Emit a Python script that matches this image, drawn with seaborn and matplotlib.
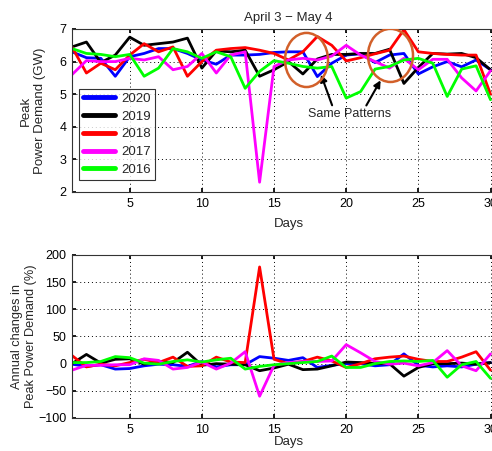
import matplotlib
matplotlib.use("Agg")
import matplotlib.pyplot as plt
import seaborn as sns
import pandas as pd
import numpy as np
from matplotlib.patches import Ellipse

days = list(range(1, 31))
years = ["2020", "2019", "2018", "2017", "2016"]
colors = {"2020": "#0000FF", "2019": "#000000", "2018": "#FF0000",
          "2017": "#FF00FF", "2016": "#00FF00"}

demand_2020 = [6.3, 6.12, 6.1, 5.55, 6.15, 6.25, 6.4, 6.4, 6.25, 6.05, 5.92, 6.2, 6.2, 6.22, 6.28,
               6.3, 6.3, 5.54, 5.95, 6.2, 6.24, 5.97, 6.2, 6.25, 5.62, 5.84, 6.0, 5.84, 6.05, 5.75]
demand_2019 = [6.45, 6.6, 5.97, 6.2, 6.75, 6.5, 6.55, 6.6, 6.72, 5.8, 6.33, 6.3, 6.35, 5.55, 5.75,
               6.0, 5.62, 6.08, 6.22, 6.22, 6.25, 6.25, 6.38, 5.33, 5.82, 6.25, 6.23, 6.25, 6.12, 5.75]
demand_2018 = [6.45, 5.65, 5.95, 5.75, 6.2, 6.55, 6.3, 6.45, 5.55, 6.0, 6.35, 6.4, 6.43, 6.35, 6.25,
               6.05, 6.3, 6.77, 6.5, 6.02, 6.12, 6.24, 6.35, 6.98, 6.3, 6.25, 6.22, 6.2, 6.2, 5.0]
demand_2017 = [5.6, 6.03, 6.0, 6.0, 6.1, 6.05, 6.15, 5.75, 5.85, 6.25, 5.65, 6.2, 6.3, 2.3, 5.85,
               6.05, 6.1, 6.05, 6.17, 6.5, 6.2, 6.0, 5.8, 6.1, 5.75, 6.07, 6.07, 5.5, 5.1, 5.72]
demand_2016 = [6.4, 6.25, 6.22, 6.15, 6.22, 5.55, 5.8, 6.4, 6.3, 6.1, 6.3, 6.15, 5.18, 5.7, 6.03,
               5.95, 5.85, 5.8, 5.85, 4.88, 5.08, 5.77, 5.85, 6.05, 6.1, 5.95, 4.93, 5.77, 5.87, 4.83]

change_2020 = [-1, -5, -2, -10, -9, -4, -1, -2, -5, 4, -6, -2, -2, 13, 10,
               6, 11, -7, -3, 0, 0, -4, -2, 18, -3, -6, -4, -6, -1, 2]
change_2019 = [0, 17, 1, 8, 9, -1, 4, 2, 21, -3, 0, -1, -2, -13, -8,
               -1, -11, -10, -4, 3, 2, 0, 0, -23, -7, 0, 0, 1, -1, 2]
change_2018 = [15, -6, -1, -4, 2, 8, 2, 12, -5, -4, 12, 3, 2, 178, 8,
               0, 4, 12, 5, -7, 0, 9, 12, 14, 8, 4, 4, 12, 22, -12]
change_2017 = [-12, -3, -3, -2, -2, 9, 6, -10, -7, 3, -10, 1, 22, -60, -3,
               2, 4, 4, 5, 35, 20, 4, -1, 1, -4, 2, 24, -4, -13, 18]
change_2016 = [2, 2, 4, 13, 11, 1, -1, 4, 7, 3, 7, 10, -10, -5, -2,
               0, 2, 4, 14, -7, -7, 0, 4, 5, 4, 6, -25, -2, 4, -27]

demand = {"2020": demand_2020, "2019": demand_2019, "2018": demand_2018,
          "2017": demand_2017, "2016": demand_2016}
change = {"2020": change_2020, "2019": change_2019, "2018": change_2018,
          "2017": change_2017, "2016": change_2016}

df_d = pd.DataFrame([(d, y, v) for y in years for d, v in zip(days, demand[y])],
                    columns=["Days", "Year", "Value"])
df_c = pd.DataFrame([(d, y, v) for y in years for d, v in zip(days, change[y])],
                    columns=["Days", "Year", "Value"])

sns.set_theme(style="white")
plt.rcParams["font.family"] = ["Liberation Sans", "DejaVu Sans"]
plt.rcParams["axes.unicode_minus"] = True

fig = plt.figure(figsize=(4.92, 4.51), dpi=100)
ax1 = fig.add_axes([0.1463, 0.5743, 0.880, 0.3614])
ax2 = fig.add_axes([0.1463, 0.0732, 0.880, 0.3614])

sns.lineplot(data=df_d, x="Days", y="Value", hue="Year", hue_order=years,
             palette=colors, linewidth=2.0, ax=ax1, legend=True)
sns.lineplot(data=df_c, x="Days", y="Value", hue="Year", hue_order=years,
             palette=colors, linewidth=2.0, ax=ax2, legend=False)

for ax in (ax1, ax2):
    ax.set_xlim(1, 31)
    ax.set_xticks([5, 10, 15, 20, 25, 30])
    ax.grid(True, linestyle=(0, (1, 3)), color="black", linewidth=0.7)
    ax.tick_params(direction="in", length=3, labelsize=9, top=True, right=True,
                   bottom=True, left=True, colors="black", pad=4)
    for s in ax.spines.values():
        s.set_color("#333333")
        s.set_linewidth(0.8)

ax1.set_xlabel("Days", fontsize=9.5, labelpad=6)
ax2.set_xlabel("Days", fontsize=9.5, labelpad=0)

ax1.set_ylim(2, 7)
ax1.set_yticks([2, 3, 4, 5, 6, 7])
ax1.set_ylabel("Peak\nPower Demand (GW)", fontsize=9.5, labelpad=10)
ax1.set_title("April 3 \u2212 May 4", fontsize=9.5, pad=6)

ax2.set_ylim(-100, 200)
ax2.set_yticks([-100, -50, 0, 50, 100, 150, 200])
ax2.set_ylabel("Annual changes in\nPeak Power Demand (%)", fontsize=9.2, labelpad=1)

leg = ax1.legend(loc="lower left", bbox_to_anchor=(0.016, 0.074), borderaxespad=0,
                 fontsize=9.5, handlelength=2.4, handletextpad=0.5, labelspacing=0.42,
                 frameon=True, fancybox=False, borderpad=0.3)
leg.get_frame().set_edgecolor("black")
leg.get_frame().set_linewidth(0.8)
for line in leg.get_lines():
    line.set_linewidth(3.5)

circ_color = "#D2602A"
ax1.add_patch(Ellipse((17.25, 6.05), 2.98, 1.66, fill=False, edgecolor=circ_color, linewidth=1.8, zorder=5))
ax1.add_patch(Ellipse((23.07, 6.19), 3.12, 1.63, fill=False, edgecolor=circ_color, linewidth=1.8, zorder=5))

ax1.annotate("", xy=(18.19, 5.68), xytext=(19.09, 4.58),
             arrowprops=dict(arrowstyle="-|>", color="black", lw=1.5, mutation_scale=10))
ax1.annotate("", xy=(22.48, 5.5), xytext=(21.3, 4.58),
             arrowprops=dict(arrowstyle="-|>", color="black", lw=1.5, mutation_scale=10))
ax1.text(20.2, 4.39, "Same Patterns", ha="center", va="center", fontsize=9)

fig.savefig("out.png", dpi=100)
